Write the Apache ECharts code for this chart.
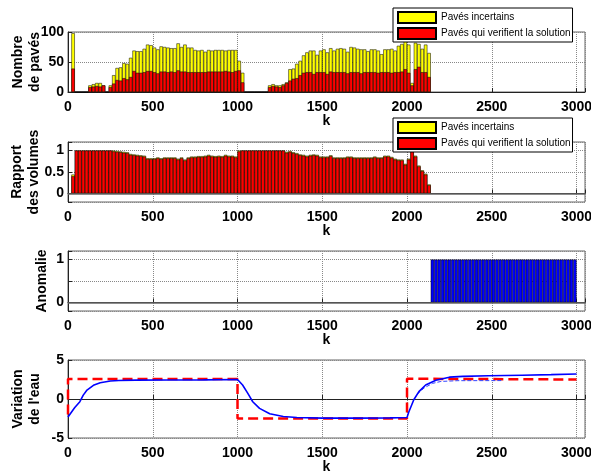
<!DOCTYPE html>
<html>
<head>
<meta charset="utf-8">
<script src="https://cdn.jsdelivr.net/npm/echarts@6/dist/echarts.min.js"></script>
<style>
html, body { margin: 0; padding: 0; background: #fff; }
#main { width: 591px; height: 472px; }
</style>
</head>
<body>
<div id="main"></div>
<script>
// k des barres (pas de 20)
const kPaves = [30,50,70,90,110,130,150,170,190,210,230,250,270,290,310,330,350,370,390,410,
  430,450,470,490,510,530,550,570,590,610,630,650,670,690,710,730,750,770,790,810,
  830,850,870,890,910,930,950,970,990,1010,1030,1050,1070,1090,1110,1130,1150,1170,1190,1210,
  1230,1250,1270,1290,1310,1330,1350,1370,1390,1410,1430,1450,1470,1490,1510,1530,1550,1570,1590,1610,
  1630,1650,1670,1690,1710,1730,1750,1770,1790,1810,1830,1850,1870,1890,1910,1930,1950,1970,1990,2010,
  2030,2050,2070,2090,2110,2130]

// Nombre de pavés qui verifient la solution
const nbSolution = [39, 0,0,0,0, 8,9,10,9,11, 0,
  8,14,20,19,23,21,25,35,32,32,
  33,35,35,33,31,34,34,33,34,33,
  36,34,34,33,33,33,33,33,33,34,
  34,34,34,34,35,34,33,35,36,16,
  0,0,0,0,0,0,0,
  8,10,9,8,11,15,19,22,23,28,
  32,33,33,30,33,33,33,30,34,33,
  33,33,33,31,33,33,33,31,33,33,
  33,33,32,33,33,33,32,33,33,34,
  38,32,11,38,42,33,33,25]

// Nombre de pavés incertains
const nbIncertains = [59, 0,0,0,0, 3,4,5,6,0, 0,
  3,14,20,22,25,26,32,34,36,36,
  39,44,43,41,40,42,41,41,39,40,
  45,41,45,41,41,37,36,37,34,36,
  35,36,36,36,34,36,37,35,16,16,
  0,0,0,0,0,0,0,
  3,3,2,3,2,1,19,17,24,24,
  29,33,36,39,29,36,38,36,39,36,
  39,40,39,36,42,41,39,40,38,35,
  38,38,37,30,38,38,40,36,44,46,
  51,47,4,44,38,39,46,40]

// Rapport des volumes
const volSolution = [0.40, 1,1,1,1,1,1,1,1,1,1,1,
  0.98,0.97,0.96,0.95,0.94,0.90,0.89,0.88,0.87,0.86,
  0.80,0.80,0.80,0.82,0.80,0.82,0.82,0.82,0.82,0.79,
  0.82,0.77,0.82,0.84,0.84,0.85,0.85,0.86,0.88,0.86,
  0.85,0.86,0.85,0.88,0.86,0.86,0.84,
  0.98, 1,1,1,1,1,1,1,1,1,1,1,1,1,
  0.95,0.97,0.94,0.92,0.89,0.88,0.86,0.88,0.89,0.88,
  0.84,0.84,0.84,0.87,0.82,0.82,0.82,0.82,0.84,0.84,
  0.82,0.82,0.82,0.82,0.82,0.82,0.84,0.82,0.82,0.86,
  0.86,0.83,0.79,0.77,0.77,0.67,0.79,1.0,0.86,0.63,
  0.52,0.44,0.19]

const volIncertains = [0.04, 0,0,0,0,0,0,0,0,0,0,0,
  0.02,0.02,0.02,0.02,0.02,0.02,0.02,0.02,0.02,0.02,
  0.02,0.02,0.02,0.02,0.02,0.02,0.02,0.02,0.02,0.02,
  0.02,0.02,0.02,0.02,0.02,0.02,0.02,0.02,0.02,0.02,
  0.02,0.02,0.02,0.02,0.02,0.02,0.02,
  0.02, 0,0,0,0,0,0,0,0,0,0,0,0,0,
  0.02,0.02,0.02,0.02,0.02,0.02,0.02,0.02,0.02,0.02,
  0.02,0.02,0.02,0.02,0.02,0.02,0.02,0.02,0.02,0.02,
  0.02,0.02,0.02,0.02,0.02,0.02,0.02,0.02,0.02,0.02,
  0.02,0.02,0.02,0.02,0.02,0.02,0.02,0,0.02,0.02,
  0.02,0.02,0.02]

// Anomalie
const kAnomalie = [2150,2170,2190,2210,2230,2250,2270,2290,2310,2330,2350,2370,2390,2410,2430,
  2450,2470,2490,2510,2530,2550,2570,2590,2610,2630,2650,2670,2690,2710,2730,
  2750,2770,2790,2810,2830,2850,2870,2890,2910,2930,2950,2970,2990]
const anomalie = [1,1,1,1,1,1,1,1,1,1,1,1,1,1,1,1,1,1,1,1,1,1,1,1,1,1,1,1,1,1,
  1,1,1,1,1,1,1,1,1,1,1,1,1]

// Variation de l'eau : consigne (rouge) et estimation (bleu)
const kConsigne = [0,0,1000,1000,2000,2000,3000]
const consigne = [-2.0,2.55,2.55,-2.5,-2.5,2.6,2.5]
const kEstime = [0,20,40,70,90,110,150,190,250,300,400,600,800,1000,
  1030,1060,1090,1130,1190,1270,1350,1500,1700,1900,2000,
  2010,2040,2070,2110,2170,2250,2330,2480,2680,2850,3000]
const estime = [-2.3,-1.7,-1.1,-0.35,0.5,1.1,1.75,2.08,2.3,2.38,2.42,2.43,2.45,2.5,
  1.8,0.75,-0.35,-1.2,-1.9,-2.25,-2.38,-2.45,-2.45,-2.42,-2.38,
  -1.7,-0.1,0.95,1.8,2.4,2.8,2.9,2.98,3.05,3.12,3.2]
const kEstime2 = [2060,2100,2150,2200,2300,2560]
const estime2 = [0.6,1.4,2.0,2.25,2.35,2.36]

const FONT = "'Liberation Sans', Arial, sans-serif"
const bigText = { fontSize: 14, fontWeight: 'bold', color: '#000', fontFamily: FONT, lineHeight: 17 }

function zip (xs, ys) { return xs.map((x, i) => [x, ys[i]]) }
// empilement : le haut de la barre jaune = solution + incertains
function zipSum (xs, a, b) { return xs.map((x, i) => [x, a[i] + b[i]]) }

function xAxe (idx) {
  return {
    type: 'value', gridIndex: idx, min: 0, max: 3050, interval: 500,
    name: 'k', nameLocation: 'middle', nameGap: 21, nameTextStyle: bigText, nameMoveOverlap: false,
    axisLine: { lineStyle: { color: '#222' } },
    axisTick: { inside: true, length: 4, lineStyle: { color: '#222' } },
    axisLabel: { margin: 8, color: '#000', fontSize: 14, fontWeight: 'bold', fontFamily: FONT,
      formatter: v => (v % 500 === 0 ? String(v) : '') },
    splitLine: { show: true, lineStyle: { type: 'dotted', color: '#888' } }
  }
}

function yAxe (idx, name, gap, extra) {
  return Object.assign({
    type: 'value', gridIndex: idx,
    name: name, nameLocation: 'middle', nameRotate: 90, nameGap: gap, nameTextStyle: bigText,
    nameMoveOverlap: false,
    axisLine: { show: true, lineStyle: { color: '#222' } },
    axisTick: { show: true, inside: true, length: 4, lineStyle: { color: '#222' } },
    axisLabel: { margin: 4, color: '#000', fontSize: 14, fontWeight: 'bold', fontFamily: FONT },
    splitLine: { show: true, lineStyle: { type: 'dotted', color: '#888' } }
  }, extra)
}

const near = (a, b) => Math.abs(a - b) < 1e-6

const barStyle = (c) => ({ color: c, borderColor: '#000', borderWidth: 0.5 })
const zeroLine = {
  silent: true, symbol: 'none', animation: false, label: { show: false },
  lineStyle: { color: '#666', width: 1.5, type: 'solid' },
  data: [{ yAxis: 0 }]
}

const legendBase = {
  orient: 'vertical', left: 393, itemWidth: 38, itemHeight: 11, itemGap: 3,
  padding: [3, 2, 2, 4], backgroundColor: '#fff', borderColor: '#000', borderWidth: 1, borderRadius: 0,
  icon: 'rect',
  textStyle: { fontSize: 10, color: '#000', fontFamily: FONT },
  data: ['Pavés incertains', 'Pavés qui verifient la solution']
}

const gridBase = { left: 68, width: 517, show: true, borderColor: '#666', borderWidth: 1, outerBoundsMode: 'none', containLabel: false }

const option = {
  animation: false,
  backgroundColor: '#fff',
  legend: [
    Object.assign({ top: 8 }, legendBase),
    Object.assign({ top: 118 }, legendBase)
  ],
  grid: [
    Object.assign({ top: 32, height: 60 }, gridBase),
    Object.assign({ top: 142, height: 60 }, gridBase),
    Object.assign({ top: 251, height: 60 }, gridBase),
    Object.assign({ top: 360, height: 78 }, gridBase)
  ],
  xAxis: [xAxe(0), xAxe(1), xAxe(2), xAxe(3)],
  yAxis: [
    yAxe(0, 'Nombre\nde pavés', 24, { min: 0, max: 100, interval: 50 }),
    yAxe(1, 'Rapport\ndes volumes', 25, {
      min: -0.2, max: 1.2, minInterval: 0.5, maxInterval: 0.5,
      axisLabel: { margin: 4, color: '#000', fontSize: 14, fontWeight: 'bold', fontFamily: FONT,
        formatter: v => (near(v, 0) ? '0' : near(v, 0.5) ? '0.5' : near(v, 1) ? '1' : '') }
    }),
    yAxe(2, 'Anomalie', 17, {
      min: -0.2, max: 1.2, minInterval: 0.5, maxInterval: 0.5,
      axisLabel: { margin: 4, color: '#000', fontSize: 14, fontWeight: 'bold', fontFamily: FONT,
        formatter: v => (near(v, 0) ? '0' : near(v, 1) ? '1' : '') }
    }),
    yAxe(3, "Variation\nde l'eau", 24, { min: -5, max: 5, interval: 5 })
  ],
  series: [
    { type: 'bar', name: 'Pavés incertains', xAxisIndex: 0, yAxisIndex: 0,
      barWidth: 3.4, itemStyle: barStyle('#ffff00'), data: zipSum(kPaves, nbSolution, nbIncertains) },
    { type: 'bar', name: 'Pavés qui verifient la solution', xAxisIndex: 0, yAxisIndex: 0, barGap: '-100%',
      barWidth: 3.4, itemStyle: barStyle('#ff0000'), data: zip(kPaves, nbSolution) },
    { type: 'bar', name: 'Pavés incertains', xAxisIndex: 1, yAxisIndex: 1,
      barWidth: 3.4, itemStyle: barStyle('#ffff00'), data: zipSum(kPaves, volSolution, volIncertains) },
    { type: 'bar', name: 'Pavés qui verifient la solution', xAxisIndex: 1, yAxisIndex: 1, barGap: '-100%',
      barWidth: 3.4, itemStyle: barStyle('#ff0000'), data: zip(kPaves, volSolution), markLine: zeroLine },
    { type: 'bar', name: 'Anomalie', xAxisIndex: 2, yAxisIndex: 2,
      barWidth: 3.4, itemStyle: barStyle('#0000ff'), data: zip(kAnomalie, anomalie), markLine: zeroLine },
    { type: 'line', name: 'Consigne', xAxisIndex: 3, yAxisIndex: 3, showSymbol: false,
      lineStyle: { color: '#ff0000', width: 2.5, type: [10, 5] }, itemStyle: { color: '#ff0000' },
      data: zip(kConsigne, consigne) },
    { type: 'line', name: 'Estimation2', xAxisIndex: 3, yAxisIndex: 3, showSymbol: false,
      lineStyle: { color: '#3344ff', width: 1, type: [4, 2] }, itemStyle: { color: '#3344ff' },
      data: zip(kEstime2, estime2) },
    { type: 'line', name: 'Estimation', xAxisIndex: 3, yAxisIndex: 3, showSymbol: false,
      lineStyle: { color: '#0000ff', width: 1.6 }, itemStyle: { color: '#0000ff' },
      data: zip(kEstime, estime) }
  ]
}

const myChart = echarts.init(document.getElementById('main'))
myChart.setOption(option)
</script>
</body>
</html>
